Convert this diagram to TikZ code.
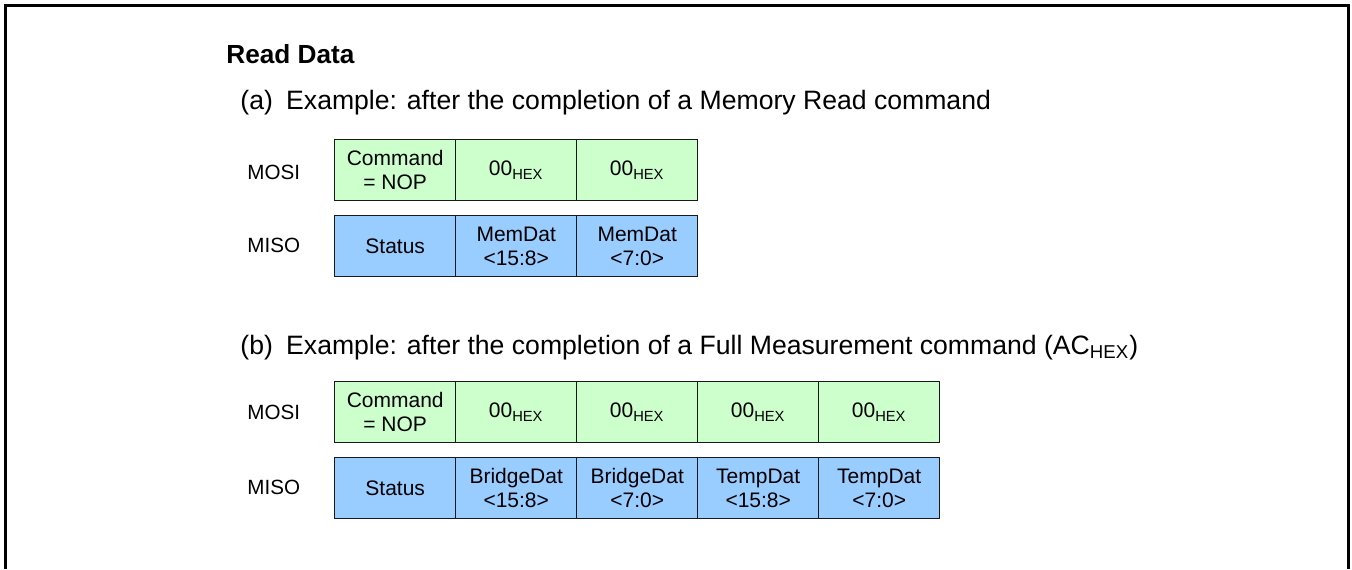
\documentclass[tikz,border=0pt]{standalone}
\usepackage{fontspec}
\setmainfont{Liberation Sans}
\usetikzlibrary{positioning}

\definecolor{mosigreen}{HTML}{CCFFCC}
\definecolor{misoblue}{HTML}{99CCFF}

\tikzset{
	cell/.style={draw=black!90, line width=0.7pt, minimum width=60.5pt, minimum height=30.5pt,
		inner sep=0pt, align=center, anchor=north west, font=\fontsize{10.5}{12}\selectfont},
	mosicell/.style={cell, fill=mosigreen},
	misocell/.style={cell, fill=misoblue},
	signame/.style={anchor=west, inner sep=0pt, font=\fontsize{10.3}{12}\selectfont},
	caption/.style={anchor=base west, inner sep=0pt, font=\fontsize{13.3}{15}\selectfont}
}
\newcommand{\hexbyte}{00\textsubscript{HEX}}

\begin{document}
\begin{tikzpicture}[x=0.5pt, y=-0.5pt]
		\useasboundingbox (0,0) rectangle (1352,569);
		\draw[line width=1.5pt] (5,569) -- (5,5) -- (1348,5) -- (1348,569);

		\node [caption, font=\fontsize{13.1}{15}\selectfont\bfseries] (title) at (226,63) {Read Data};
		\node [caption] (capA) at (240,109) {(a)\hspace{0.5em}Example: after the completion of a Memory Read command};
		\node [caption] (capB) at (240,354) {(b)\hspace{0.5em}Example: after the completion of a Full Measurement command (AC\textsubscript{HEX})};

		% (a) Memory Read
		\node [signame] (mosiA) at (247,172) {MOSI};
		\node [signame] (misoA) at (247,245) {MISO};
		\draw (334,139) node [mosicell] (a1) {Command\\= NOP};
		\draw (455,139) node [mosicell] (a2) {\hexbyte};
		\draw (576,139) node [mosicell] (a3) {\hexbyte};
		\draw (334,215) node [misocell] (a4) {Status};
		\draw (455,215) node [misocell] (a5) {MemDat\\<15:8>};
		\draw (576,215) node [misocell] (a6) {MemDat\\<7:0>};

		% (b) Full Measurement
		\node [signame] (mosiB) at (247,412) {MOSI};
		\node [signame] (misoB) at (247,487) {MISO};
		\draw (334,381) node [mosicell] (b1) {Command\\= NOP};
		\draw (455,381) node [mosicell] (b2) {\hexbyte};
		\draw (576,381) node [mosicell] (b3) {\hexbyte};
		\draw (697,381) node [mosicell] (b4) {\hexbyte};
		\draw (818,381) node [mosicell] (b5) {\hexbyte};
		\draw (334,457) node [misocell] (b6) {Status};
		\draw (455,457) node [misocell] (b7) {BridgeDat\\<15:8>};
		\draw (576,457) node [misocell] (b8) {BridgeDat\\<7:0>};
		\draw (697,457) node [misocell] (b9) {TempDat\\<15:8>};
		\draw (818,457) node [misocell] (b10) {TempDat\\<7:0>};
	\end{tikzpicture}
\end{document}
